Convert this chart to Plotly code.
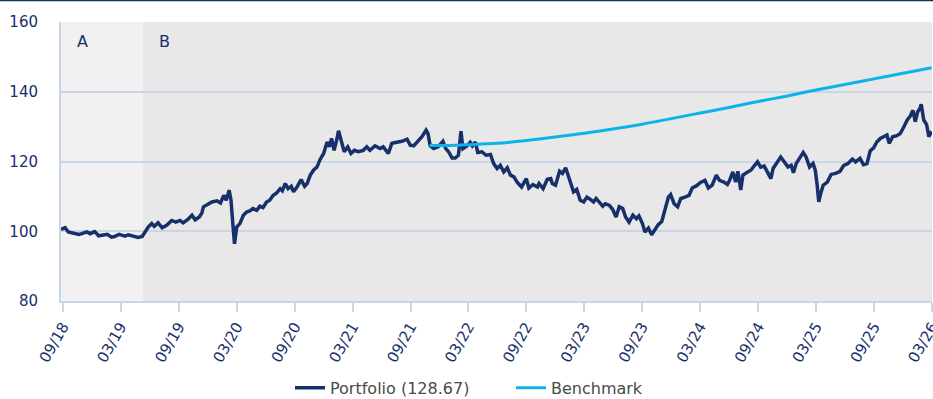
import plotly.graph_objects as go

# Portfolio index (rebased to 100)
portfolio_dates = [
    "2018-09-24", "2018-10-07", "2018-10-17", "2018-11-03", "2018-11-19", "2018-11-29",
    "2018-12-14", "2018-12-25", "2019-01-08", "2019-01-21", "2019-02-06", "2019-02-17",
    "2019-03-02", "2019-03-12", "2019-03-26", "2019-04-14", "2019-04-24", "2019-05-09",
    "2019-05-25", "2019-06-07", "2019-06-15", "2019-06-26", "2019-07-07", "2019-07-15",
    "2019-07-27", "2019-08-09", "2019-08-23", "2019-09-08", "2019-09-21", "2019-10-04",
    "2019-10-14", "2019-10-28", "2019-11-11", "2019-11-21", "2019-12-04", "2019-12-12",
    "2019-12-17", "2020-01-02", "2020-01-13", "2020-01-29", "2020-02-09", "2020-02-19",
    "2020-02-27", "2020-03-07", "2020-03-13", "2020-03-17", "2020-03-21", "2020-03-24",
    "2020-03-31", "2020-04-10", "2020-04-21", "2020-05-01", "2020-05-11", "2020-05-21",
    "2020-06-02", "2020-06-12", "2020-06-22", "2020-07-03", "2020-07-13", "2020-07-24",
    "2020-08-04", "2020-08-15", "2020-08-22", "2020-08-31", "2020-09-09", "2020-09-19",
    "2020-09-26", "2020-10-07", "2020-10-20", "2020-10-31", "2020-11-08", "2020-11-18",
    "2020-11-28", "2020-12-09", "2020-12-19", "2020-12-30", "2021-01-10", "2021-01-17",
    "2021-01-24", "2021-02-01", "2021-02-09", "2021-02-15", "2021-02-23", "2021-03-05",
    "2021-03-16", "2021-03-26", "2021-04-06", "2021-04-18", "2021-05-04", "2021-05-15",
    "2021-05-25", "2021-06-10", "2021-06-26", "2021-07-06", "2021-07-22", "2021-08-02",
    "2021-08-18", "2021-09-03", "2021-09-19", "2021-09-29", "2021-10-10", "2021-10-26",
    "2021-11-05", "2021-11-18", "2021-11-24", "2021-12-01", "2021-12-12", "2021-12-26",
    "2022-01-10", "2022-01-19", "2022-01-28", "2022-02-08", "2022-02-18", "2022-02-28",
    "2022-03-08", "2022-03-14", "2022-03-27", "2022-04-06", "2022-04-13", "2022-04-22",
    "2022-04-30", "2022-05-13", "2022-05-26", "2022-06-09", "2022-06-19", "2022-06-30",
    "2022-07-10", "2022-07-21", "2022-08-01", "2022-08-11", "2022-08-22", "2022-09-01",
    "2022-09-15", "2022-09-30", "2022-10-08", "2022-10-21", "2022-11-04", "2022-11-09",
    "2022-11-22", "2022-12-05", "2022-12-16", "2022-12-21", "2022-12-31", "2023-01-13",
    "2023-01-22", "2023-02-01", "2023-02-10", "2023-02-17", "2023-02-26", "2023-03-08",
    "2023-03-19", "2023-03-30", "2023-04-09", "2023-04-19", "2023-04-30", "2023-05-08",
    "2023-05-21", "2023-05-29", "2023-06-06", "2023-06-19", "2023-06-29", "2023-07-10",
    "2023-07-20", "2023-07-31", "2023-08-09", "2023-08-20", "2023-09-01", "2023-09-12",
    "2023-09-20", "2023-10-01", "2023-10-09", "2023-10-20", "2023-10-30", "2023-11-09",
    "2023-11-20", "2023-12-01", "2023-12-11", "2023-12-22", "2023-12-29", "2024-01-09",
    "2024-01-20", "2024-01-30", "2024-02-12", "2024-02-25", "2024-03-06", "2024-03-19",
    "2024-04-01", "2024-04-15", "2024-04-26", "2024-05-08", "2024-05-21", "2024-05-31",
    "2024-06-14", "2024-06-25", "2024-07-02", "2024-07-12", "2024-07-21", "2024-07-28",
    "2024-08-06", "2024-08-13", "2024-08-28", "2024-09-07", "2024-09-17", "2024-09-28",
    "2024-10-08", "2024-10-19", "2024-10-30", "2024-11-09", "2024-11-16", "2024-11-27",
    "2024-12-10", "2024-12-21", "2025-01-02", "2025-01-12", "2025-01-19", "2025-01-28",
    "2025-02-07", "2025-02-19", "2025-02-28", "2025-03-11", "2025-03-22", "2025-03-29",
    "2025-04-04", "2025-04-09", "2025-04-15", "2025-04-23", "2025-05-06", "2025-05-18",
    "2025-06-01", "2025-06-15", "2025-06-27", "2025-07-10", "2025-07-24", "2025-08-03",
    "2025-08-17", "2025-08-28", "2025-09-08", "2025-09-18", "2025-09-29", "2025-10-09",
    "2025-10-20", "2025-10-31", "2025-11-10", "2025-11-17", "2025-11-28", "2025-12-11",
    "2025-12-22", "2026-01-02", "2026-01-13", "2026-01-23", "2026-01-31", "2026-02-07",
    "2026-02-15", "2026-02-22", "2026-02-26", "2026-03-06", "2026-03-15", "2026-03-22",
    "2026-03-31",
]
portfolio_values = [
    100.5, 101.0, 99.8, 99.5, 99.1, 99.3,
    99.8, 99.3, 99.9, 98.7, 98.8, 99.1,
    98.3, 98.5, 99.1, 98.6, 99.0, 98.5,
    98.2, 98.5, 99.8, 101.2, 102.2, 101.4,
    102.4, 101.0, 101.7, 103.1, 102.6, 103.1,
    102.4, 103.3, 104.6, 103.3, 104.1, 105.2,
    107.0, 107.9, 108.4, 108.7, 108.1, 110.3,
    108.9, 111.8, 108.9, 104.1, 100.3, 96.4,
    101.2, 102.2, 104.6, 105.5, 105.8, 106.5,
    106.0, 107.2, 106.8, 108.4, 108.9, 110.3,
    111.0, 112.2, 111.6, 113.7, 112.2, 112.9,
    111.3, 112.7, 114.8, 112.9, 113.7, 116.1,
    117.5, 118.4, 120.6, 122.3, 125.6, 124.2,
    126.6, 123.2, 126.1, 128.8, 126.1, 122.8,
    124.2, 122.3, 123.2, 122.8, 123.2, 124.2,
    123.2, 124.5, 123.7, 124.2, 122.3, 125.2,
    125.5, 125.8, 126.4, 124.7, 124.5, 126.1,
    127.1, 129.0, 128.0, 124.5, 123.7, 124.2,
    125.8, 123.7, 122.8, 121.0, 121.0, 121.8,
    128.7, 123.7, 124.5, 125.5, 124.5, 125.6,
    122.6, 122.8, 121.8, 122.0, 119.4, 118.0,
    118.9, 117.0, 118.2, 116.1, 115.6, 114.1,
    112.7, 115.1, 112.4, 113.4, 112.7, 113.7,
    112.2, 114.9, 115.1, 113.7, 113.2, 117.2,
    116.6, 118.2, 115.6, 113.4, 111.3, 112.0,
    108.9, 108.4, 109.8, 109.2, 108.4, 109.4,
    107.9, 107.2, 107.9, 107.4, 106.3, 104.1,
    107.0, 106.5, 104.1, 102.6, 104.6, 103.6,
    104.4, 102.2, 99.8, 100.9, 99.0, 100.3,
    101.9, 102.8, 106.0, 109.8, 110.5, 107.9,
    107.0, 109.4, 109.8, 110.3, 112.4, 113.0,
    114.0, 114.6, 112.4, 113.2, 116.1, 114.6,
    114.1, 113.4, 114.6, 117.0, 114.1, 117.2,
    111.8, 116.1, 117.0, 117.5, 118.7, 119.9,
    118.4, 118.7, 116.8, 115.1, 118.0, 119.4,
    121.3, 119.9, 118.4, 118.9, 116.8, 119.4,
    120.9, 122.6, 121.3, 118.4, 119.4, 117.5,
    113.2, 108.4, 110.8, 113.2, 114.1, 116.3,
    116.6, 117.2, 118.9, 119.4, 120.7, 119.9,
    120.9, 119.1, 119.4, 123.0, 123.9, 125.6,
    126.6, 127.1, 127.6, 125.2, 127.1, 127.4,
    128.0, 129.9, 131.9, 133.1, 134.7, 131.4,
    134.3, 135.2, 136.4, 131.9, 130.6, 127.1,
    128.67,
]

# Benchmark path (starts late 2021)
benchmark_dates = [
    "2021-11-29", "2021-12-31", "2022-01-31", "2022-03-31", "2022-06-30",
    "2022-09-30", "2022-12-31", "2023-03-31", "2023-06-30", "2023-09-30",
    "2023-12-31", "2024-03-31", "2024-06-30", "2024-09-30", "2024-12-31",
    "2025-03-31", "2025-06-30", "2025-09-30", "2025-12-31", "2026-03-31",
]
benchmark_values = [
    124.6, 124.6, 124.6, 124.8, 125.2,
    126.0, 127.0, 128.1, 129.3, 130.7,
    132.3, 133.9, 135.5, 137.2, 138.8,
    140.5, 142.1, 143.7, 145.3, 146.9,
]

# Period bands
period_labels = ["A", "B"]
period_starts = ["2018-09-24", "2019-06-09"]
period_ends = ["2019-06-09", "2026-04-01"]
period_fills = ["#f1f1f1", "#e8e8e8"]

# Axis ticks (semi-annual, month end)
tick_dates = [
    "2018-09-30", "2019-03-31", "2019-09-30", "2020-03-31", "2020-09-30",
    "2021-03-31", "2021-09-30", "2022-03-31", "2022-09-30", "2023-03-31",
    "2023-09-30", "2024-03-31", "2024-09-30", "2025-03-31", "2025-09-30",
    "2026-03-31",
]
tick_labels = [
    "09/18", "03/19", "09/19", "03/20", "09/20", "03/21", "09/21", "03/22",
    "09/22", "03/23", "09/23", "03/24", "09/24", "03/25", "09/25", "03/26",
]
y_ticks = [80, 100, 120, 140, 160]

NAVY = "#17306b"
CYAN = "#0db3e8"
GRID = "#c9d6e6"
FONT = "DejaVu Sans, Verdana, sans-serif"

fig = go.Figure()
fig.add_trace(go.Scatter(
    x=portfolio_dates, y=portfolio_values, mode="lines",
    name=f"Portfolio ({portfolio_values[-1]:.2f})",
    line=dict(color=NAVY, width=3.5),
))
fig.add_trace(go.Scatter(
    x=benchmark_dates, y=benchmark_values, mode="lines",
    name="Benchmark", line=dict(color=CYAN, width=3, shape="spline"),
))

for lab, x0, x1, fill in zip(period_labels, period_starts, period_ends, period_fills):
    fig.add_shape(type="rect", xref="x", yref="paper", x0=x0, x1=x1, y0=0, y1=1,
                  fillcolor=fill, line_width=0, layer="below")
    fig.add_annotation(x=x0, y=1, xref="x", yref="paper", text=lab, showarrow=False,
                       xanchor="left", yanchor="top", xshift=14, yshift=-8,
                       font=dict(family=FONT, size=16, color=NAVY))

# thin rule along the top edge of the page
fig.add_shape(type="line", xref="paper", yref="paper",
              x0=-0.1, x1=1.1, y0=1 + 21.5 / 279, y1=1 + 21.5 / 279,
              line=dict(color=NAVY, width=1.5))

fig.update_layout(
    width=933, height=399,
    margin=dict(l=61, r=1, t=22, b=98, autoexpand=False),
    paper_bgcolor="white", plot_bgcolor="white",
    font=dict(family=FONT, size=14, color=NAVY),
    showlegend=True,
    legend=dict(orientation="h", xref="container", yref="container",
                x=290 / 933, xanchor="left", y=0.028, yanchor="middle",
                font=dict(family=FONT, size=16, color="#4a4a4a"),
                entrywidth=176, entrywidthmode="pixels"),
    xaxis=dict(
        range=["2018-09-24", "2026-04-01"], automargin=False,
        tickmode="array", tickvals=tick_dates, ticktext=tick_labels,
        tickangle=-60, ticks="outside", ticklen=9, tickwidth=1.5, tickcolor=GRID,
        ticklabeloverflow="allow",
        showgrid=False, showline=True, linecolor=GRID, linewidth=2,
        tickfont=dict(family=FONT, size=15, color=NAVY),
        zeroline=False,
    ),
    yaxis=dict(
        range=[80, 160], tickmode="array", tickvals=y_ticks, automargin=False,
        showgrid=True, gridcolor=GRID, gridwidth=1.5,
        showline=True, linecolor=GRID, linewidth=2,
        ticks="", ticklabelstandoff=18,
        tickfont=dict(family=FONT, size=15, color=NAVY),
        zeroline=False,
    ),
)

fig.write_html("out.html")
